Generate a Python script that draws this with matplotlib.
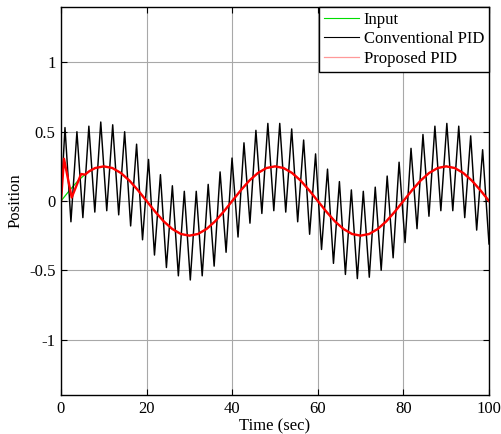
import numpy as np
import matplotlib
matplotlib.use("Agg")
import matplotlib.pyplot as plt
from matplotlib.lines import Line2D

input_t = [0, 2, 4, 6, 8, 10, 12, 14, 16, 18, 20, 22, 24, 26, 28, 30, 32, 34, 36, 38,
           40, 42, 44, 46, 48, 50, 52, 54, 56, 58, 60, 62, 64, 66, 68, 70, 72, 74, 76, 78,
           80, 82, 84, 86, 88, 90, 92, 94, 96, 98, 100]
input_y = [0, 0.077, 0.147, 0.202, 0.238, 0.25, 0.238, 0.202, 0.147, 0.077,
           0, -0.077, -0.147, -0.202, -0.238, -0.25, -0.238, -0.202, -0.147, -0.077,
           0, 0.077, 0.147, 0.202, 0.238, 0.25, 0.238, 0.202, 0.147, 0.077,
           0, -0.077, -0.147, -0.202, -0.238, -0.25, -0.238, -0.202, -0.147, -0.077,
           0, 0.077, 0.147, 0.202, 0.238, 0.25, 0.238, 0.202, 0.147, 0.077, 0]

# Conventional PID response: start point, peaks/troughs, end point
conv_t = [0, 0.93, 2.32, 3.72, 5.11, 6.51, 7.90, 9.29, 10.69, 12.08, 13.48, 14.87, 16.27,
          17.66, 19.05, 20.45, 21.84, 23.23, 24.63, 26.02, 27.42, 28.81, 30.21, 31.60,
          32.99, 34.39, 35.78, 37.17, 38.57, 39.96, 41.36, 42.75, 44.15, 45.54, 46.93,
          48.33, 49.72, 51.11, 52.51, 53.90, 55.30, 56.69, 58.09, 59.48, 60.87, 62.27,
          63.66, 65.05, 66.45, 67.84, 69.24, 70.63, 72.03, 73.42, 74.81, 76.21, 77.60,
          78.99, 80.39, 81.78, 83.18, 84.57, 85.97, 87.36, 88.75, 90.15, 91.54, 92.93,
          94.33, 95.72, 97.12, 98.51, 100]
conv_y = [0, 0.53, -0.15, 0.50, -0.12, 0.54, -0.08, 0.57, -0.07, 0.55, -0.10, 0.50, -0.18,
          0.41, -0.28, 0.30, -0.39, 0.19, -0.48, 0.11, -0.54, 0.07, -0.57, 0.07,
          -0.54, 0.12, -0.47, 0.21, -0.37, 0.31, -0.26, 0.42, -0.16, 0.51, -0.09,
          0.56, -0.07, 0.56, -0.08, 0.52, -0.15, 0.44, -0.24, 0.34, -0.35, 0.23,
          -0.45, 0.14, -0.53, 0.08, -0.56, 0.07, -0.55, 0.10, -0.50, 0.18, -0.41,
          0.28, -0.30, 0.38, -0.20, 0.48, -0.11, 0.54, -0.07, 0.56, -0.07, 0.54,
          -0.12, 0.47, -0.21, 0.37, -0.31]

# Proposed PID response
prop_t = [0, 0.7, 2.5, 4.7, 5.6, 6.6, 8, 10, 12, 14, 16, 18, 20, 22, 24, 26, 28, 30, 32, 34,
          36, 38, 40, 42, 44, 46, 48, 50, 52, 54, 56, 58, 60, 62, 64, 66, 68, 70, 72, 74,
          76, 78, 80, 82, 84, 86, 88, 90, 92, 94, 96, 98, 100]
prop_y = [0, 0.305, 0.025, 0.195, 0.19, 0.215, 0.238, 0.25, 0.238, 0.202, 0.147, 0.077,
          0, -0.077, -0.147, -0.202, -0.238, -0.25, -0.238, -0.202, -0.147, -0.077,
          0, 0.077, 0.147, 0.202, 0.238, 0.25, 0.238, 0.202, 0.147, 0.077,
          0, -0.077, -0.147, -0.202, -0.238, -0.25, -0.238, -0.202, -0.147, -0.077,
          0, 0.077, 0.147, 0.202, 0.238, 0.25, 0.238, 0.202, 0.147, 0.077, 0]

labels = ["Input", "Conventional PID", "Proposed PID"]
x_ticks = [0, 20, 40, 60, 80, 100]
y_ticks = [-1, -0.5, 0, 0.5, 1]

plt.rcParams['font.family'] = ['Liberation Serif', 'DejaVu Serif']
plt.rcParams['font.size'] = 12

fig = plt.figure(figsize=(5.02, 4.34), dpi=100)
ax = fig.add_axes([61 / 502, 1 - 395 / 434, (489 - 61) / 502, (395 - 7) / 434])

ax.plot(input_t, input_y, color='#00dd00', lw=0.9)
ax.plot(conv_t, conv_y, color='black', lw=1.05)
ax.plot(prop_t, prop_y, color='red', lw=1.7)

ax.set_xlim(0, 100)
ax.set_ylim(-1.4, 1.4)
ax.set_xticks(x_ticks)
ax.set_xticklabels([str(v) for v in x_ticks])
ax.set_yticks(y_ticks)
ax.set_yticklabels(['-1', '-0.5', '0', '0.5', '1'])
ax.grid(True, color='#a8a8a8', lw=0.8)
ax.set_axisbelow(True)
ax.tick_params(direction='in', top=True, right=True, length=4, width=0.8, pad=4)
for s in ax.spines.values():
    s.set_linewidth(1.0)

ax.set_xlabel("Time (sec)", labelpad=1)
ax.set_ylabel("Position", labelpad=4)

# thin proxy lines for the legend, as in the original
handles = [Line2D([], [], color='#00dd00', lw=0.8),
           Line2D([], [], color='black', lw=0.8),
           Line2D([], [], color='#ff9999', lw=0.9)]
leg = ax.legend(handles, labels, loc='upper right', borderaxespad=0, fancybox=False,
                framealpha=1, edgecolor='black', handlelength=2.1, handletextpad=0.3,
                labelspacing=0.2, borderpad=0.3)
leg.get_frame().set_linewidth(1.0)

fig.savefig("out.png", dpi=100)
